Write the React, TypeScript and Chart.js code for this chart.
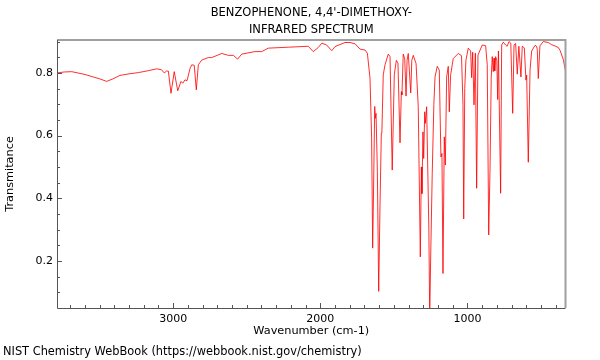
import React, { useEffect, useRef } from "react";
import { Chart, registerables } from "chart.js";

Chart.register(...registerables);

const wavenumbers = [
  3790, 3740, 3690, 3600, 3500, 3452, 3410, 3362, 3300, 3237, 3170, 3112, 3080, 3061, 3045, 3033,
  3015, 2993, 2969, 2947, 2935, 2920, 2906, 2885, 2874, 2857, 2843, 2829, 2806, 2761, 2738, 2670,
  2625, 2591, 2562, 2534, 2444, 2398, 2354, 2218, 2082, 2048, 2014, 1990, 1957, 1922, 1900, 1832,
  1798, 1764, 1730, 1696, 1680, 1662, 1651, 1644, 1640, 1630, 1626, 1621, 1612, 1603, 1594, 1585,
  1581, 1572, 1560, 1538, 1526, 1511, 1497, 1483, 1472, 1458, 1449, 1445, 1436, 1426, 1417, 1410,
  1402, 1385, 1378, 1368, 1349, 1334, 1320, 1313, 1309, 1302, 1297, 1290, 1286, 1277, 1262, 1256,
  1250, 1239, 1228, 1220, 1205, 1191, 1180, 1173, 1166, 1157, 1150, 1141, 1130, 1123, 1114, 1096,
  1062, 1040, 1030, 1025, 1018, 1010, 994, 978, 971, 964, 955, 946, 937, 928, 899, 876,
  865, 855, 846, 838, 831, 824, 819, 814, 808, 800, 794, 789, 774, 767, 756, 740,
  730, 717, 705, 692, 683, 672, 661, 650, 636, 627, 613, 602, 597, 586, 574, 563,
  540, 530, 525, 518, 507, 484, 450, 427, 404, 382, 370, 348, 333,
];

const transmittance = [
  0.800, 0.803, 0.804, 0.795, 0.781, 0.773, 0.781, 0.792, 0.797, 0.801, 0.807, 0.813, 0.810, 0.800, 0.806, 0.806,
  0.735, 0.804, 0.743, 0.773, 0.767, 0.778, 0.775, 0.815, 0.826, 0.824, 0.746, 0.826, 0.841, 0.849, 0.849, 0.862,
  0.856, 0.856, 0.844, 0.860, 0.868, 0.868, 0.879, 0.882, 0.885, 0.868, 0.881, 0.895, 0.889, 0.871, 0.884, 0.897,
  0.897, 0.893, 0.876, 0.873, 0.863, 0.783, 0.592, 0.241, 0.358, 0.693, 0.655, 0.671, 0.485, 0.103, 0.379, 0.608,
  0.618, 0.794, 0.826, 0.860, 0.852, 0.490, 0.794, 0.840, 0.831, 0.577, 0.740, 0.730, 0.860, 0.845, 0.726, 0.840,
  0.862, 0.736, 0.840, 0.856, 0.830, 0.692, 0.213, 0.500, 0.415, 0.612, 0.527, 0.676, 0.639, 0.692, 0.300, 0.020,
  0.200, 0.479, 0.700, 0.787, 0.821, 0.809, 0.532, 0.543, 0.160, 0.596, 0.506, 0.787, 0.821, 0.676, 0.793, 0.846,
  0.862, 0.855, 0.700, 0.334, 0.750, 0.840, 0.879, 0.870, 0.785, 0.866, 0.698, 0.863, 0.432, 0.857, 0.889, 0.887,
  0.826, 0.283, 0.496, 0.783, 0.852, 0.804, 0.847, 0.806, 0.852, 0.840, 0.715, 0.870, 0.416, 0.889, 0.898, 0.889,
  0.885, 0.900, 0.895, 0.671, 0.889, 0.894, 0.796, 0.885, 0.787, 0.885, 0.880, 0.777, 0.793, 0.515, 0.810, 0.870,
  0.888, 0.885, 0.875, 0.782, 0.886, 0.900, 0.897, 0.890, 0.886, 0.881, 0.872, 0.843, 0.806,
];

const xTickValues = [3000, 2000, 1000];
const yTickValues = [0.2, 0.4, 0.6, 0.8];
const titleLines = ["BENZOPHENONE, 4,4'-DIMETHOXY-", "INFRARED SPECTRUM"];
const xAxisTitle = "Wavenumber (cm-1)";
const yAxisTitle = "Transmitance";
const footerText = "NIST Chemistry WebBook (https://webbook.nist.gov/chemistry)";

const X_MIN = 333;
const X_MAX = 3790;
const Y_MIN = 0.05;
const Y_MAX = 0.905;
const FONT = '"DejaVu Sans", sans-serif';

const decorPlugin = {
  id: "decor",
  afterDraw(chart: any) {
    const { ctx, chartArea: a, scales } = chart;
    const xs = scales.x;
    const ys = scales.y;
    ctx.save();
    // frame
    ctx.strokeStyle = "#a0a0a0";
    ctx.lineWidth = 2;
    ctx.beginPath();
    ctx.moveTo(a.left, a.top);
    ctx.lineTo(a.right, a.top);
    ctx.lineTo(a.right, a.bottom);
    ctx.stroke();
    ctx.strokeStyle = "#555555";
    ctx.lineWidth = 1;
    ctx.beginPath();
    ctx.moveTo(a.left + 0.5, a.top);
    ctx.lineTo(a.left + 0.5, a.bottom + 0.5);
    ctx.lineTo(a.right, a.bottom + 0.5);
    ctx.stroke();
    // ticks (inward)
    ctx.beginPath();
    for (let v = 400; v <= 3700; v += 100) {
      const px = Math.round(xs.getPixelForValue(v)) + 0.5;
      const len = v % 1000 === 0 ? 5 : 3;
      ctx.moveTo(px, a.bottom);
      ctx.lineTo(px, a.bottom - len);
    }
    for (let i = 2; i <= 18; i++) {
      const v = i * 0.05;
      const py = Math.round(ys.getPixelForValue(v)) + 0.5;
      const len = i % 4 === 0 ? 5 : 3;
      ctx.moveTo(a.left, py);
      ctx.lineTo(a.left + len, py);
    }
    ctx.stroke();
    // texts
    ctx.fillStyle = "#000";
    ctx.textBaseline = "middle";
    ctx.textAlign = "center";
    const cx = (a.left + a.right) / 2;
    ctx.font = `11.5px ${FONT}`;
    ctx.fillText(titleLines[0], cx, 13.5);
    ctx.fillText(titleLines[1], cx, 30);
    ctx.font = `11.3px ${FONT}`;
    ctx.fillText(xAxisTitle, cx, 331);
    ctx.save();
    ctx.translate(10.5, (a.top + a.bottom) / 2);
    ctx.rotate(-Math.PI / 2);
    ctx.fillText(yAxisTitle, 0, 0);
    ctx.restore();
    ctx.textAlign = "left";
    ctx.font = `11.4px ${FONT}`;
    ctx.fillText(footerText, 3, 352);
    ctx.restore();
  },
};

export default function App() {
  const canvasRef = useRef<HTMLCanvasElement | null>(null);

  useEffect(() => {
    const canvas = canvasRef.current;
    if (!canvas) return;
    const points = wavenumbers.map((w, i) => ({ x: w, y: transmittance[i] }));
    const chart = new Chart(canvas, {
      type: "line",
      data: {
        datasets: [
          {
            data: points,
            borderColor: "rgba(255,0,0,0.82)",
            borderWidth: 1,
            pointRadius: 0,
            tension: 0,
            fill: false,
          },
        ],
      },
      options: {
        responsive: false,
        animation: false,
        events: [],
        layout: { padding: { left: 0, right: 34.5, top: 40, bottom: 0 } },
        plugins: {
          legend: { display: false },
          title: { display: false },
          tooltip: { enabled: false },
        },
        scales: {
          x: {
            type: "linear",
            reverse: true,
            min: X_MIN,
            max: X_MAX,
            grid: { display: false, drawTicks: false },
            border: { display: false },
            afterBuildTicks: (s: any) => {
              s.ticks = xTickValues.map((v) => ({ value: v }));
            },
            afterFit: (s: any) => {
              s.height = 52;
            },
            ticks: {
              font: { family: FONT, size: 11 },
              color: "#000",
              padding: 5,
              maxRotation: 0,
              autoSkip: false,
              callback: (v: any) => String(v),
            },
          },
          y: {
            type: "linear",
            min: Y_MIN,
            max: Y_MAX,
            grid: { display: false, drawTicks: false },
            border: { display: false },
            afterBuildTicks: (s: any) => {
              s.ticks = yTickValues.map((v) => ({ value: v }));
            },
            afterFit: (s: any) => {
              s.width = 57;
            },
            ticks: {
              font: { family: FONT, size: 11 },
              color: "#000",
              padding: 4,
              callback: (v: any) => Number(v).toFixed(1),
            },
          },
        },
      },
      plugins: [decorPlugin],
    });
    return () => chart.destroy();
  }, []);

  return (
    <div style={{ position: "absolute", left: 0, top: 0, width: 600, height: 360, background: "#fff" }}>
      <canvas ref={canvasRef} width={600} height={360} style={{ display: "block", width: 600, height: 360 }} />
    </div>
  );
}
